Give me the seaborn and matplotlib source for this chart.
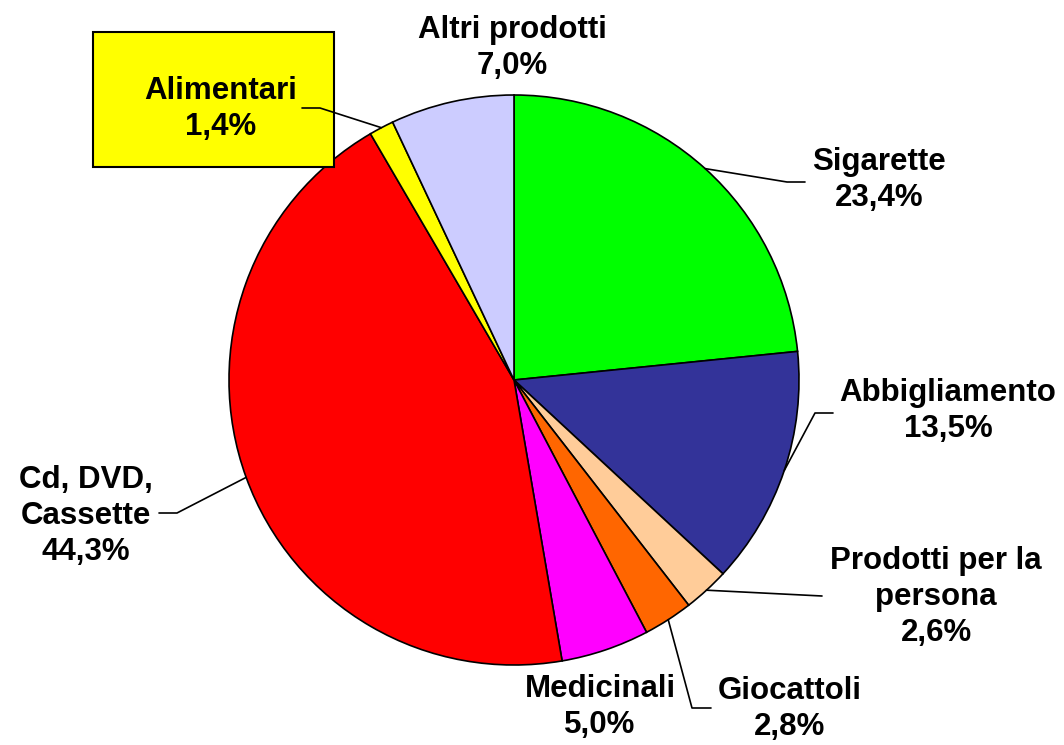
import numpy as np
import matplotlib.pyplot as plt
import seaborn as sns
from matplotlib.patches import Rectangle

categories = ["Sigarette", "Abbigliamento", "Prodotti per la\npersona", "Giocattoli",
              "Medicinali", "Cd, DVD,\nCassette", "Alimentari", "Altri prodotti"]
values = [23.4, 13.5, 2.6, 2.8, 5.0, 44.3, 1.4, 7.0]
colors = ["#00FF00", "#333399", "#FFCC99", "#FF6600",
          "#FF00FF", "#FF0000", "#FFFF00", "#CCCCFF"]

sns.set_theme(style="white")
plt.rcParams['font.family'] = ['Liberation Sans', 'DejaVu Sans']

W, H = 1064, 745
fig = plt.figure(figsize=(10.64, 7.45), dpi=100)
ax = fig.add_axes([0, 0, 1, 1])

# pie geometry in pixel units (y measured from top)
cx, cy, r = 514, 380, 285
wedges, _ = ax.pie(values, colors=colors, startangle=90, counterclock=False,
                   center=(cx, H - cy), radius=r,
                   wedgeprops=dict(edgecolor="black", linewidth=1.2))
ax.set_xlim(0, W)
ax.set_ylim(0, H)
ax.set_aspect("equal")
ax.axis("off")

# label centres and leader line bends (pixels from top-left)
label_pos = [(879, 180), (948, 411), (936, 597), (790, 709),
             (600, 707), (86, 516), (221, 109), (512, 48)]
leaders = [[(787, 182), (805, 182)],
           [(815, 413), (833, 413)],
           [(822, 596)],
           [(692, 708), (711, 708)],
           None,
           [(177, 513), (159, 513)],
           [(320, 108), (302, 108)],
           None]

# yellow box behind Alimentari
ax.add_patch(Rectangle((93, H - 167), 241, 135, facecolor="#FFFF00",
                       edgecolor="black", linewidth=1.5, zorder=3))

for w, cat, v, pos, lead in zip(wedges, categories, values, label_pos, leaders):
    label = cat + "\n" + f"{v:.1f}".replace(".", ",") + "%"
    ax.text(pos[0], H - pos[1], label, ha="center", va="center", color="black",
            fontsize=22.5, fontweight="bold", linespacing=1.27, zorder=5)
    if lead is None:
        continue
    ang = np.deg2rad((w.theta1 + w.theta2) / 2)
    x0 = cx + r * np.cos(ang)
    y0 = (H - cy) + r * np.sin(ang)
    xs = [x0] + [p[0] for p in lead]
    ys = [y0] + [H - p[1] for p in lead]
    ax.plot(xs, ys, color="black", linewidth=1.2, zorder=4)

fig.savefig("out.png", dpi=100)
plt.close()
